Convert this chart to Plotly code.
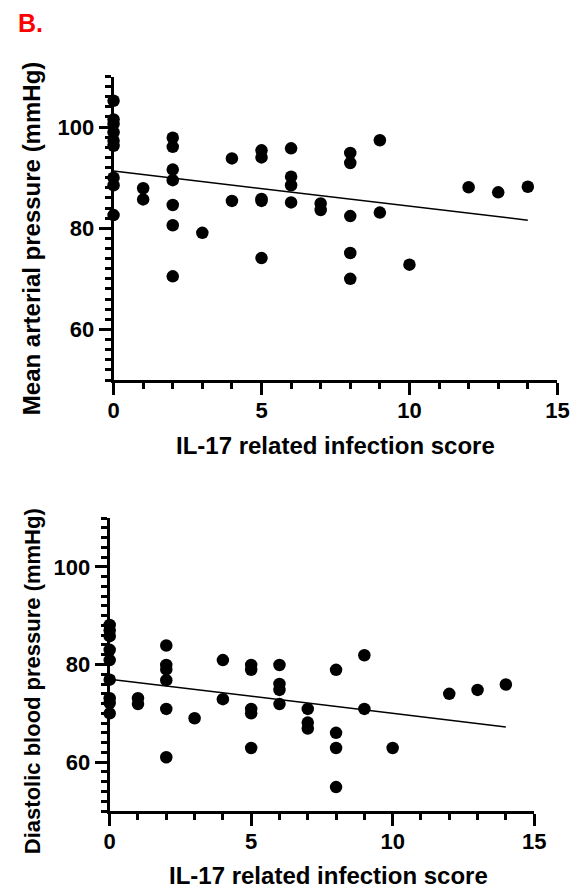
import plotly.graph_objects as go

# ---- data: top panel (Mean arterial pressure) ----
map_x = [0, 0, 0, 0, 0, 0, 0, 0, 0,
         1, 1,
         2, 2, 2, 2, 2, 2, 2,
         3,
         4, 4,
         5, 5, 5, 5, 5,
         6, 6, 6, 6,
         7, 7,
         8, 8, 8, 8, 8,
         9, 9,
         10,
         12, 13, 14]
map_y = [105.2, 101.5, 100.6, 99.0, 97.3, 96.3, 90.0, 88.5, 82.6,
         87.9, 85.7,
         97.9, 96.1, 91.6, 89.5, 84.6, 80.6, 70.5,
         79.1,
         93.8, 85.4,
         95.4, 94.0, 85.8, 85.4, 74.1,
         95.8, 90.2, 88.5, 85.1,
         84.9, 83.6,
         94.9, 92.9, 82.4, 75.1, 70.0,
         97.4, 83.1,
         72.8,
         88.1, 87.1, 88.2]
map_fit_x = [0, 14]
map_fit_y = [91.3, 81.6]

# ---- data: bottom panel (Diastolic blood pressure) ----
dbp_x = [0, 0, 0, 0, 0, 0, 0, 0, 0,
         1, 1,
         2, 2, 2, 2, 2, 2,
         3,
         4, 4,
         5, 5, 5, 5, 5,
         6, 6, 6, 6,
         7, 7, 7,
         8, 8, 8, 8,
         9, 9,
         10,
         12, 13, 14]
dbp_y = [88.1, 87.0, 85.8, 83.0, 80.9, 76.9, 73.1, 72.1, 70.0,
         73.1, 71.9,
         83.9, 79.9, 79.0, 76.8, 70.9, 61.0,
         69.0,
         80.9, 72.9,
         79.9, 78.9, 70.9, 70.0, 62.9,
         79.9, 76.0, 74.8, 71.9,
         70.9, 68.1, 66.9,
         78.9, 66.0, 62.9, 54.9,
         81.9, 70.9,
         62.9,
         74.0, 74.8, 75.9]
dbp_fit_x = [0, 14]
dbp_fit_y = [77.0, 67.2]

x_ticks = [0, 5, 10, 15]
y_ticks = [60, 80, 100]

W, H = 582, 889
FONT = "Liberation Sans"

def px_x(p):
    return p / W

def px_y(p):
    return 1 - p / H

fig = go.Figure()

marker = dict(color="black", size=12.5, line=dict(width=0))
fig.add_trace(go.Scatter(x=map_x, y=map_y, mode="markers", marker=marker,
                         xaxis="x", yaxis="y", cliponaxis=False, showlegend=False))
fig.add_trace(go.Scatter(x=map_fit_x, y=map_fit_y, mode="lines",
                         line=dict(color="black", width=1.5),
                         xaxis="x", yaxis="y", showlegend=False))
fig.add_trace(go.Scatter(x=dbp_x, y=dbp_y, mode="markers", marker=marker,
                         xaxis="x2", yaxis="y2", cliponaxis=False, showlegend=False))
fig.add_trace(go.Scatter(x=dbp_fit_x, y=dbp_fit_y, mode="lines",
                         line=dict(color="black", width=1.5),
                         xaxis="x2", yaxis="y2", showlegend=False))

tickfont = dict(family=FONT, size=22, color="black", weight="bold")

def xaxis(domain, anchor):
    return dict(domain=domain, anchor=anchor, range=[0, 15],
                tickvals=x_ticks, ticks="outside", ticklen=12, tickwidth=3,
                tickcolor="black", showline=True, linecolor="black", linewidth=3,
                showgrid=False, zeroline=False, tickfont=tickfont,
                minor=dict(dtick=1, ticks="outside", ticklen=6, tickwidth=2.5,
                           tickcolor="black", showgrid=False),
                ticklabelstandoff=-3)

def yaxis(domain, anchor):
    return dict(domain=domain, anchor=anchor, range=[50, 110],
                tickvals=y_ticks, ticks="outside", ticklen=12, tickwidth=3,
                tickcolor="black", showline=True, linecolor="black", linewidth=3,
                showgrid=False, zeroline=False, tickfont=tickfont,
                minor=dict(tick0=50, dtick=2, ticks="outside", ticklen=6, tickwidth=2.5,
                           tickcolor="black", showgrid=False),
                ticklabelstandoff=0)

fig.update_layout(
    width=W, height=H,
    margin=dict(l=0, r=0, t=0, b=0),
    paper_bgcolor="white", plot_bgcolor="white",
    xaxis=xaxis([px_x(111), px_x(569)], "y"),
    yaxis=yaxis([px_y(380), px_y(76.5)], "x"),
    xaxis2=xaxis([px_x(107), px_x(545)], "y2"),
    yaxis2=yaxis([px_y(811), px_y(518)], "x2"),
)

titlefont = dict(family=FONT, size=24, color="black", weight="bold")
annos = [
    dict(text="B.", x=px_x(10), y=px_y(23), xanchor="left", yanchor="middle",
         font=dict(family=FONT, size=25, color="#ff0000", weight="bold")),
    dict(text="IL-17 related infection score", x=px_x(340), y=px_y(446),
         xanchor="center", yanchor="middle", font=titlefont),
    dict(text="Mean arterial pressure (mmHg)", x=px_x(27), y=px_y(239),
         xanchor="center", yanchor="middle", textangle=-90, font=titlefont),
    dict(text="IL-17 related infection score", x=px_x(333), y=px_y(875),
         xanchor="center", yanchor="middle", font=titlefont),
    dict(text="Diastolic blood pressure (mmHg)", x=px_x(27), y=px_y(681),
         xanchor="center", yanchor="middle", textangle=-90,
         font=dict(family=FONT, size=22, color="black", weight="bold")),
]
for a in annos:
    a.update(xref="paper", yref="paper", showarrow=False)
fig.update_layout(annotations=annos)

fig.write_html("out.html")
